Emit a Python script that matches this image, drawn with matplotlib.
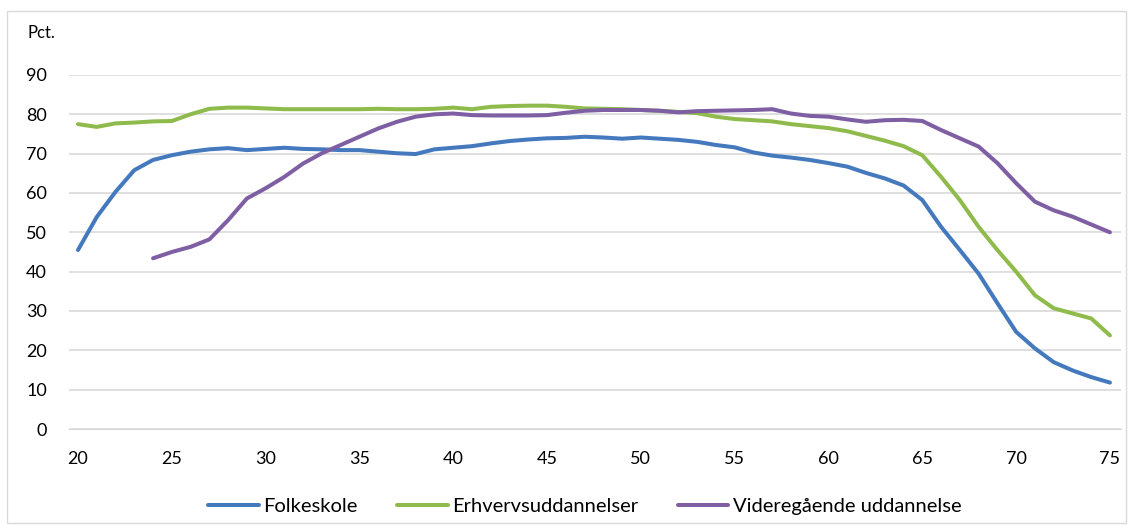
import numpy as np
import matplotlib.pyplot as plt
from matplotlib.patches import Rectangle

plt.rcParams['font.family'] = ['Lato', 'DejaVu Sans']

alder = np.arange(20, 76)

folkeskole = [45.5, 53.9, 60.3, 65.8, 68.4, 69.6, 70.5, 71.1, 71.4, 70.9,
              71.2, 71.5, 71.2, 71.1, 70.9, 70.9, 70.5, 70.1, 69.9, 71.1,
              71.5, 71.9, 72.6, 73.2, 73.6, 73.9, 74.0, 74.3, 74.1, 73.8,
              74.1, 73.8, 73.5, 73.0, 72.2, 71.6, 70.3, 69.5, 69.0, 68.4,
              67.6, 66.7, 65.1, 63.7, 61.9, 58.2, 51.4, 45.5, 39.5, 32.0,
              24.7, 20.5, 17.0, 14.9, 13.2, 11.8]

erhverv = [77.5, 76.8, 77.7, 77.9, 78.2, 78.3, 80.0, 81.4, 81.7, 81.7,
           81.5, 81.3, 81.3, 81.3, 81.3, 81.3, 81.4, 81.3, 81.3, 81.4,
           81.7, 81.3, 81.9, 82.1, 82.2, 82.2, 81.9, 81.5, 81.4, 81.3,
           81.1, 80.9, 80.6, 80.3, 79.4, 78.8, 78.5, 78.2, 77.5, 77.0,
           76.5, 75.7, 74.5, 73.3, 71.9, 69.6, 64.1, 58.2, 51.4, 45.5,
           40.0, 34.0, 30.7, 29.4, 28.1, 23.8]

videregaaende = [np.nan, np.nan, np.nan, np.nan, 43.4, 45.0, 46.3, 48.2, 53.1, 58.6,
                 61.2, 64.1, 67.5, 70.1, 72.2, 74.3, 76.4, 78.1, 79.4, 80.0,
                 80.2, 79.8, 79.7, 79.7, 79.7, 79.8, 80.4, 80.9, 81.1, 81.1,
                 81.1, 80.9, 80.5, 80.8, 80.9, 81.0, 81.1, 81.3, 80.2, 79.6,
                 79.4, 78.7, 78.1, 78.5, 78.6, 78.3, 76.0, 73.9, 71.8, 67.6,
                 62.5, 57.8, 55.6, 54.0, 52.0, 50.0]

fig = plt.figure(figsize=(11.31, 5.28), dpi=100)
ax = fig.add_axes([0.061, 0.1875, 0.93, 0.6705])

ax.plot(alder, folkeskole, color='#4479be', lw=2.9, label='Folkeskole', solid_capstyle='round')
ax.plot(alder, erhverv, color='#8fbb4c', lw=2.9, label='Erhvervsuddannelser', solid_capstyle='round')
ax.plot(alder, videregaaende, color='#7f5fa3', lw=2.9, label='Videregående uddannelse', solid_capstyle='round')

ax.set_xlim(19.52, 75.58)
ax.set_ylim(0, 90)
ax.set_yticks(np.arange(0, 91, 10))
ax.set_xticks(np.arange(20, 76, 5))
ax.grid(axis='y', color='#d9d9d9', lw=1.2)
ax.set_axisbelow(True)
for s in ['top', 'right', 'left']:
    ax.spines[s].set_visible(False)
ax.spines['bottom'].set_color('#d9d9d9')
ax.tick_params(axis='both', length=0, labelsize=13, colors='#000000')
ax.tick_params(axis='y', pad=16)
ax.tick_params(axis='x', pad=16)

fig.text(0.024, 0.937, 'Pct.', fontsize=12, va='center')

fig.legend(loc='center', bbox_to_anchor=(0.517, 0.04), ncol=3, frameon=False,
           fontsize=14.5, handlelength=2.5, columnspacing=2.0, handletextpad=0.2)

fig.patches.append(Rectangle((0.006, 0.01), 0.99, 0.97, transform=fig.transFigure,
                             fill=False, edgecolor='#d9d9d9', lw=1))

fig.savefig('out.png', dpi=100)
